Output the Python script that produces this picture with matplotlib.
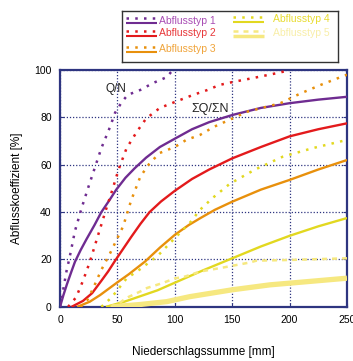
import matplotlib
matplotlib.use('Agg')
import matplotlib.pyplot as plt

plt.rcParams['font.family'] = ['Liberation Sans', 'DejaVu Sans']

# Q/N (dotted) curves
qn1_x = [0, 2, 4.3, 6, 8, 13, 19, 25, 30.5, 36, 43.6, 48, 54, 59, 70, 81, 93, 97, 100]
qn1_y = [0, 5, 11.4, 16, 20, 32, 42, 51, 59, 67, 76, 82, 86.6, 89.5, 91.6, 94.5, 97, 99.3, 100]
qn2_x = [7, 14, 20, 26, 33, 40, 46, 51, 58, 67, 75, 87, 100, 116, 128, 139, 151, 168, 192, 200]
qn2_y = [0, 4, 11, 19, 30, 41, 50, 58, 67, 74, 79.5, 84, 86.5, 89.5, 91.5, 93.7, 95, 96.6, 99, 100]
qn3_x = [18, 24, 29, 36, 43.6, 52, 55, 62, 70, 78, 87, 100, 110, 122, 134, 150, 163, 192, 209, 227, 247, 250]
qn3_y = [0, 3, 8, 15.6, 22.6, 31, 34, 45, 55, 60.6, 65, 67.5, 70.5, 72.6, 76, 79.5, 82.4, 86, 90, 93.7, 97.5, 98]
qn4_x = [36, 45, 58, 71, 86, 100, 113, 122, 133, 148, 170, 194, 220, 250]
qn4_y = [0, 4, 12, 16.3, 22, 29, 35.4, 41, 46, 52, 58, 63.4, 67, 70.5]
qn5_x = [44, 50, 58, 70, 76, 89, 100, 109, 122, 142, 165, 171, 200, 250]
qn5_y = [0, 1, 3.8, 6.5, 8, 10, 12, 12.8, 14.9, 16.6, 18.7, 19.5, 19.8, 20.5]

# sum Q / sum N (solid) curves
sq1_x = [0, 3, 6, 10, 13, 18, 23, 30, 36, 43, 49, 57, 65, 75, 87, 100, 115, 130, 150, 175, 200, 225, 250]
sq1_y = [0, 5, 9.5, 15, 19, 24, 28.5, 34.5, 40, 45, 49.5, 54.5, 58.5, 63, 67.5, 71, 75, 78, 81, 84, 86, 87.5, 88.7]
sq2_x = [10, 20, 28, 36, 42, 48, 55, 62, 70, 78, 88, 100, 115, 130, 150, 175, 200, 225, 250]
sq2_y = [0, 2.5, 5.8, 11, 15, 19.5, 24.5, 29.5, 35, 40, 44.5, 49, 54, 58, 62.7, 67.5, 72, 75, 77.5]
sq3_x = [15, 26, 35, 42, 49, 60, 74, 87, 100, 112, 122, 135, 150, 175, 200, 225, 250]
sq3_y = [0, 2.2, 5, 7.5, 10, 13.8, 19.1, 25, 30.4, 34.5, 37.4, 41, 44.4, 49.5, 53.6, 58, 62]
sq4_x = [40, 55, 70, 85, 100, 125, 150, 175, 200, 225, 250]
sq4_y = [0, 2, 4.5, 7, 10.2, 15.5, 20.5, 25.5, 30, 34, 37.5]
sq5_x = [45, 70, 93, 113, 150, 183, 200, 250]
sq5_y = [0, 1, 2.2, 4.3, 7.2, 9.3, 10, 12.1]

labels = ['Abflusstyp 1', 'Abflusstyp 2', 'Abflusstyp 3', 'Abflusstyp 4', 'Abflusstyp 5']
colors = ['#6f2c91', '#e31a1c', '#e8900c', '#e2d820', '#f6e880']
text_colors = ['#a84cb4', '#e8383a', '#f0a43a', '#e8dc30', '#f8eea8']
solid_lw = [1.7, 1.7, 1.7, 1.7, 3.8]
dot_styles = [(0, (1, 2.5)), (0, (1, 2.5)), (0, (1, 2.5)), (0, (1, 2.5)), (0, (2, 2))]

qn = [(qn1_x, qn1_y), (qn2_x, qn2_y), (qn3_x, qn3_y), (qn4_x, qn4_y), (qn5_x, qn5_y)]
sq = [(sq1_x, sq1_y), (sq2_x, sq2_y), (sq3_x, sq3_y), (sq4_x, sq4_y), (sq5_x, sq5_y)]

navy = '#2e3580'

fig = plt.figure(figsize=(3.53, 3.61), dpi=100)
ax = fig.add_axes([0.170, 0.150, 0.813, 0.656])

for i in range(5):
    ax.plot(qn[i][0], qn[i][1], color=colors[i], lw=1.8, ls=dot_styles[i],
            dash_capstyle='butt', zorder=3)
    ax.plot(sq[i][0], sq[i][1], color=colors[i], lw=solid_lw[i], zorder=3,
            solid_capstyle='butt', solid_joinstyle='round')

ax.set_xlim(0, 250)
ax.set_ylim(0, 100)
ax.set_xticks([0, 50, 100, 150, 200, 250])
ax.set_yticks([0, 20, 40, 60, 80, 100])
ax.grid(True, color=navy, ls=(0, (1, 1.5)), lw=0.9)
ax.tick_params(direction='in', length=3, color=navy, labelsize=7.5, right=True,
               pad=6)
for s in ax.spines.values():
    s.set_color(navy)
    s.set_linewidth(1.6)

ax.set_xlabel('Niederschlagssumme [mm]', fontsize=8.5, labelpad=15)
ax.set_ylabel('Abflusskoeffizient [%]', fontsize=8.5, labelpad=8)

ax.text(49, 92, 'Q/N', fontsize=8.5, ha='center', va='center', color='#222222')
ax.text(131, 83.5, '\u03a3Q/\u03a3N', fontsize=9, ha='center', va='center',
        color='#222222')

# legend box, drawn in pixel-like coordinates
lg = fig.add_axes([122 / 353, 1 - 62 / 361, 216 / 353, 51 / 361])
lg.set_xlim(122, 338)
lg.set_ylim(62, 11)
lg.set_xticks([])
lg.set_yticks([])
for s in lg.spines.values():
    s.set_color('#333333')
    s.set_linewidth(1.0)

rows = [(126, 157, 159, 20.5), (126, 157, 159, 33.5), (126, 157, 159, 49.5),
        (233, 264, 273, 19.5), (233, 264, 273, 33.5)]
for i, (x0, x1, tx, yc) in enumerate(rows):
    lg.plot([x0, x1], [yc - 2.2, yc - 2.2], color=colors[i], lw=1.8,
            ls=dot_styles[i], dash_capstyle='butt')
    lg.plot([x0, x1], [yc + 2.2, yc + 2.2], color=colors[i], lw=1.5 if i < 4 else 2.5,
            solid_capstyle='butt')
    lg.text(tx, yc, labels[i], color=text_colors[i], fontsize=7.5, va='center', ha='left')

fig.savefig('out.png', dpi=100)
